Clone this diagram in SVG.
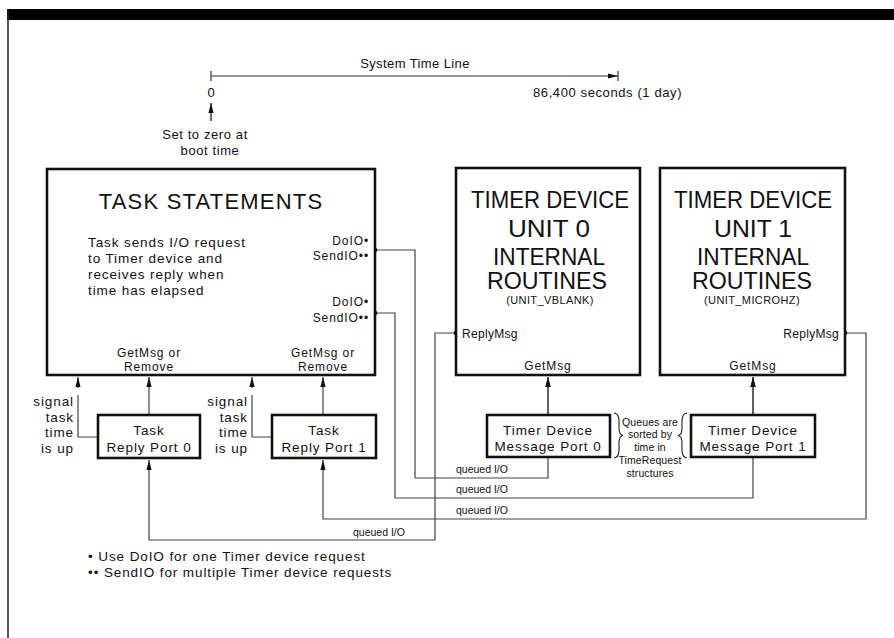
<svg xmlns="http://www.w3.org/2000/svg" width="894" height="638" viewBox="0 0 894 638">
  <style>
    text { font-family: "Liberation Sans", Arial, sans-serif; fill: #111; }
    .box { fill: #fff; stroke: #111; stroke-width: 2.6; }
    .wire { fill: none; stroke: #444; stroke-width: 1.2; }
    .body { font-size: 13.5px; letter-spacing: 0.9px; }
    .big { font-size: 22px; letter-spacing: 1.2px; }
    .unit { font-size: 23px; text-anchor: middle; }
    .mid { text-anchor: middle; }
    .end { text-anchor: end; }
    .small { font-size: 12px; letter-spacing: 0.9px; }
    .tiny { font-size: 10.5px; }
    .note { font-size: 10.5px; letter-spacing: 0.1px; text-anchor: middle; }
  </style>
  <defs>
    <marker id="arrow" markerUnits="userSpaceOnUse" markerWidth="11" markerHeight="6" refX="10" refY="3" orient="auto">
      <path d="M0,0.4 L10,3 L0,5.6 z" fill="#111"/>
    </marker>
  </defs>

  <!-- page frame -->
  <rect x="7" y="9" width="887" height="11" fill="#000"/>
  <line x1="8" y1="9" x2="8" y2="638" stroke="#222" stroke-width="1.5"/>

  <!-- system time line -->
  <g id="timeline">
    <text x="415" y="68" class="mid" style="font-size:13px;letter-spacing:0.4px">System Time Line</text>
    <line x1="211" y1="76" x2="618" y2="76" stroke="#333" stroke-width="1.2" marker-end="url(#arrow)"/>
    <line x1="211" y1="71" x2="211" y2="81" stroke="#333" stroke-width="1.2"/>
    <line x1="618" y1="71" x2="618" y2="81" stroke="#333" stroke-width="1.2"/>
    <text x="211" y="97" class="mid" style="font-size:13px">0</text>
    <text x="533" y="97" style="font-size:13px;letter-spacing:0.6px">86,400 seconds (1 day)</text>
    <line x1="211" y1="121" x2="211" y2="103" stroke="#333" stroke-width="1.4" marker-end="url(#arrow)"/>
    <text x="205" y="139" class="mid" style="font-size:13px;letter-spacing:0.6px">Set to zero at</text>
    <text x="210" y="155" class="mid" style="font-size:13px;letter-spacing:0.6px">boot time</text>
  </g>

  <!-- connectors -->
  <g id="connectors">
    <path class="wire" d="M375,250 H415 V478 H548 V377" marker-end="url(#arrow)"/>
    <path class="wire" d="M375,313 H395 V498 H753 V377" marker-end="url(#arrow)"/>
    <path class="wire" d="M845,333 H866 V519 H323 V460" marker-end="url(#arrow)"/>
    <path class="wire" d="M456,333 H435 V540 H149 V460" marker-end="url(#arrow)"/>
    <path class="wire" d="M149,415 V377" marker-end="url(#arrow)"/>
    <path class="wire" d="M323,415 V377" marker-end="url(#arrow)"/>
    <path class="wire" d="M548,415 V377" marker-end="url(#arrow)"/>
    <path class="wire" d="M753,415 V377" marker-end="url(#arrow)"/>
    <path class="wire" d="M78,388 V377" marker-end="url(#arrow)"/>
    <path class="wire" d="M252,388 V377" marker-end="url(#arrow)"/>
    <path class="wire" d="M78,395 V437 H98"/>
    <path class="wire" d="M252,395 V437 H272"/>
    <circle cx="375" cy="250" r="2.3" fill="#111"/>
    <circle cx="375" cy="313" r="2.3" fill="#111"/>
    <circle cx="456" cy="333" r="2.3" fill="#111"/>
    <circle cx="845" cy="333" r="2.3" fill="#111"/>
    <text x="456" y="473" class="tiny">queued I/O</text>
    <text x="456" y="493" class="tiny">queued I/O</text>
    <text x="456" y="514" class="tiny">queued I/O</text>
    <text x="353" y="536" class="tiny">queued I/O</text>
  </g>

  <!-- task statements -->
  <g id="task-statements">
    <rect class="box" x="47" y="169" width="328" height="206"/>
    <text x="211" y="209" class="big mid">TASK STATEMENTS</text>
    <text x="88" y="247" class="body">Task sends I/O request</text>
    <text x="88" y="263" class="body">to Timer device and</text>
    <text x="88" y="279" class="body">receives reply when</text>
    <text x="88" y="295" class="body">time has elapsed</text>
    <text x="369" y="245" class="small end">DoIO•</text>
    <text x="369" y="260" class="small end">SendIO••</text>
    <text x="369" y="306" class="small end">DoIO•</text>
    <text x="369" y="322" class="small end">SendIO••</text>
    <text x="149" y="357" class="small mid">GetMsg or</text>
    <text x="149" y="371" class="small mid">Remove</text>
    <text x="323" y="357" class="small mid">GetMsg or</text>
    <text x="323" y="371" class="small mid">Remove</text>
  </g>

  <!-- timer device unit 0 -->
  <g id="timer-unit-0">
    <rect class="box" x="456" y="168" width="184" height="207"/>
    <text x="550" y="208" class="unit" textLength="158" lengthAdjust="spacingAndGlyphs">TIMER DEVICE</text>
    <text x="549" y="237" class="unit" textLength="82" lengthAdjust="spacingAndGlyphs">UNIT 0</text>
    <text x="549" y="265" class="unit" textLength="112" lengthAdjust="spacingAndGlyphs">INTERNAL</text>
    <text x="547" y="289" class="unit" textLength="120" lengthAdjust="spacingAndGlyphs">ROUTINES</text>
    <text x="550" y="304" class="mid" style="font-size:11px;letter-spacing:0.4px">(UNIT_VBLANK)</text>
    <text x="462" y="338" class="small" style="letter-spacing:0.3px">ReplyMsg</text>
    <text x="548" y="370" class="small mid">GetMsg</text>
  </g>

  <!-- timer device unit 1 -->
  <g id="timer-unit-1">
    <rect class="box" x="660" y="168" width="185" height="207"/>
    <text x="753" y="208" class="unit" textLength="158" lengthAdjust="spacingAndGlyphs">TIMER DEVICE</text>
    <text x="753" y="237" class="unit" textLength="78" lengthAdjust="spacingAndGlyphs">UNIT 1</text>
    <text x="753" y="265" class="unit" textLength="112" lengthAdjust="spacingAndGlyphs">INTERNAL</text>
    <text x="752" y="289" class="unit" textLength="120" lengthAdjust="spacingAndGlyphs">ROUTINES</text>
    <text x="752" y="304" class="mid" style="font-size:11px;letter-spacing:0.4px">(UNIT_MICROHZ)</text>
    <text x="839" y="338" class="small end" style="letter-spacing:0.3px">ReplyMsg</text>
    <text x="753" y="370" class="small mid">GetMsg</text>
  </g>

  <!-- task reply port 0 -->
  <g id="task-reply-port-0">
    <rect class="box" x="98" y="415" width="102" height="43"/>
    <text x="149" y="435" class="body mid">Task</text>
    <text x="149" y="452" class="body mid">Reply Port 0</text>
    <text x="74" y="406" class="body end">signal</text>
    <text x="74" y="422" class="body end">task</text>
    <text x="74" y="437" class="body end">time</text>
    <text x="74" y="453" class="body end">is up</text>
  </g>

  <!-- task reply port 1 -->
  <g id="task-reply-port-1">
    <rect class="box" x="272" y="415" width="104" height="43"/>
    <text x="324" y="435" class="body mid">Task</text>
    <text x="324" y="452" class="body mid">Reply Port 1</text>
    <text x="248" y="406" class="body end">signal</text>
    <text x="248" y="422" class="body end">task</text>
    <text x="248" y="437" class="body end">time</text>
    <text x="248" y="453" class="body end">is up</text>
  </g>

  <!-- timer device message port 0 -->
  <g id="message-port-0">
    <rect class="box" x="487" y="415" width="123" height="42"/>
    <text x="548" y="435" class="body mid">Timer Device</text>
    <text x="548" y="451" class="body mid">Message Port 0</text>
  </g>

  <!-- timer device message port 1 -->
  <g id="message-port-1">
    <rect class="box" x="691" y="415" width="124" height="42"/>
    <text x="753" y="435" class="body mid">Timer Device</text>
    <text x="753" y="451" class="body mid">Message Port 1</text>
  </g>

  <!-- queue note between the message ports -->
  <g id="queue-note">
    <path d="M614,413 C620,414 619,421 619,428 C619,433 620,435 623,435.5 C620,436 619,438 619,443 C619,450 620,457 614,458" fill="none" stroke="#222" stroke-width="1.1"/>
    <path d="M687,413 C681,414 682,421 682,428 C682,433 681,435 678,435.5 C681,436 682,438 682,443 C682,450 681,457 687,458" fill="none" stroke="#222" stroke-width="1.1"/>
    <text x="650" y="426" class="note">Queues are</text>
    <text x="650" y="438" class="note">sorted by</text>
    <text x="650" y="451" class="note">time in</text>
    <text x="650" y="464" class="note">TimeRequest</text>
    <text x="650" y="477" class="note">structures</text>
  </g>

  <!-- footnotes -->
  <g id="footnotes">
    <text x="88" y="561" class="body">• Use DoIO for one Timer device request</text>
    <text x="88" y="577" class="body">•• SendIO for multiple Timer device requests</text>
  </g>
</svg>
